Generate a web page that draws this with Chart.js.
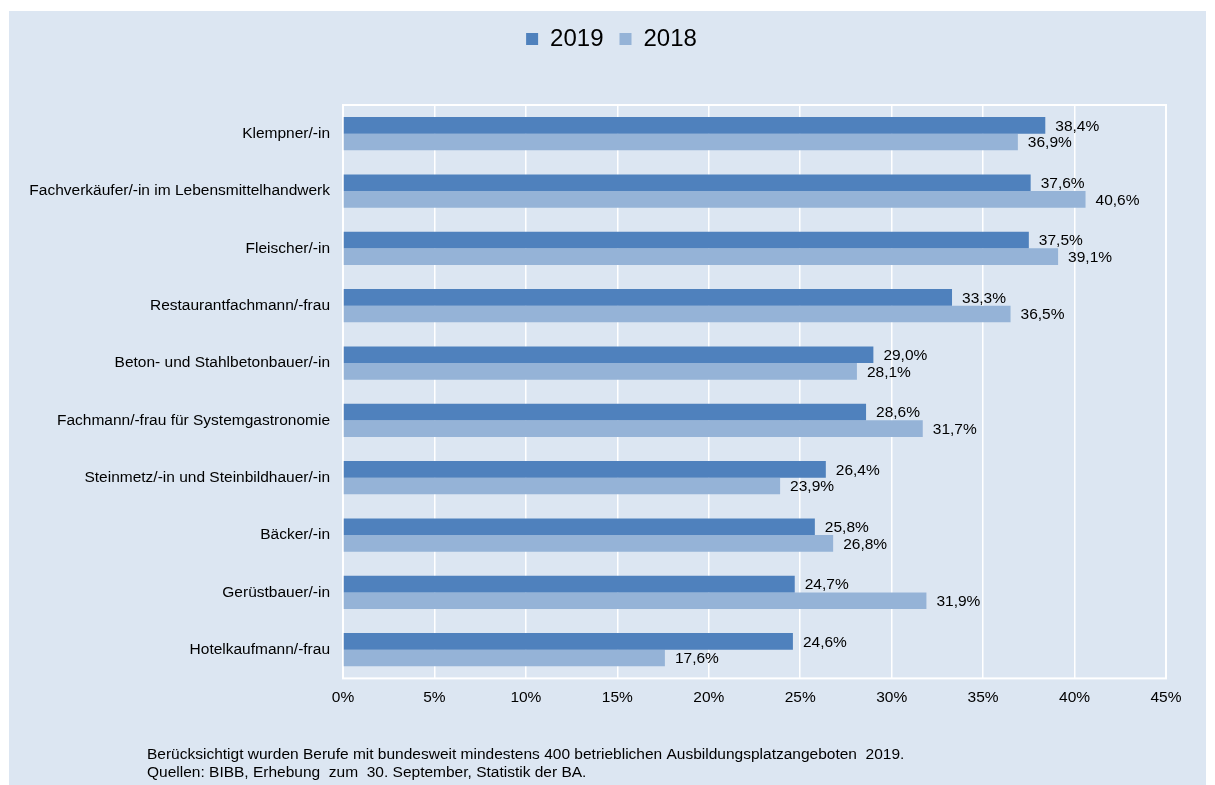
<!DOCTYPE html>
<html>
<head>
<meta charset="utf-8">
<script src="https://cdn.jsdelivr.net/npm/chart.js@4/dist/chart.umd.min.js"></script>
<style>
  body { margin: 0; background: #ffffff; }
  #panel {
    position: absolute;
    left: 9px;
    top: 11px;
    width: 1197px;
    height: 774px;
    background: #dce6f2;
  }
</style>
</head>
<body>
<div id="panel"><canvas id="chart" width="1197" height="774"></canvas></div>
<script>
const berufe = [
  'Klempner/-in',
  'Fachverkäufer/-in im Lebensmittelhandwerk',
  'Fleischer/-in',
  'Restaurantfachmann/-frau',
  'Beton- und Stahlbetonbauer/-in',
  'Fachmann/-frau für Systemgastronomie',
  'Steinmetz/-in und Steinbildhauer/-in',
  'Bäcker/-in',
  'Gerüstbauer/-in',
  'Hotelkaufmann/-frau'
]
const werte2019 = [38.4, 37.6, 37.5, 33.3, 29.0, 28.6, 26.4, 25.8, 24.7, 24.6]
const werte2018 = [36.9, 40.6, 39.1, 36.5, 28.1, 31.7, 23.9, 26.8, 31.9, 17.6]
const xTicks = [0, 5, 10, 15, 20, 25, 30, 35, 40, 45]
const fussnote = [
  'Berücksichtigt wurden Berufe mit bundesweit mindestens 400 betrieblichen Ausbildungsplatzangeboten  2019.',
  'Quellen: BIBB, Erhebung  zum  30. September, Statistik der BA.'
]

const FONT = "'Liberation Sans', Arial, sans-serif"
const SIZE = 15.5
Chart.defaults.font.family = FONT
Chart.defaults.color = '#000000'

const fmt = v => v.toFixed(1).replace('.', ',') + '%'

// white frame around the plot area
const plotFrame = {
  id: 'plotFrame',
  beforeDatasetsDraw (chart) {
    const { ctx, chartArea: a } = chart
    ctx.save()
    ctx.strokeStyle = '#ffffff'
    ctx.lineWidth = 2
    ctx.strokeRect(a.left, a.top, a.right - a.left, a.bottom - a.top)
    ctx.restore()
  }
}

// value labels right of each bar
const barLabels = {
  id: 'barLabels',
  afterDatasetsDraw (chart) {
    const { ctx } = chart
    ctx.save()
    ctx.font = SIZE + 'px ' + FONT
    ctx.fillStyle = '#000000'
    ctx.textAlign = 'left'
    ctx.textBaseline = 'middle'
    chart.data.datasets.forEach((ds, i) => {
      chart.getDatasetMeta(i).data.forEach((bar, j) => {
        ctx.fillText(fmt(ds.data[j]), bar.x + 10, bar.y + 1)
      })
    })
    ctx.restore()
  }
}

// source note at the bottom
const footNote = {
  id: 'footNote',
  afterDraw (chart) {
    const { ctx } = chart
    ctx.save()
    ctx.font = SIZE + 'px ' + FONT
    ctx.fillStyle = '#000000'
    ctx.textAlign = 'left'
    ctx.textBaseline = 'middle'
    fussnote.forEach((line, i) => ctx.fillText(line, 138, 744 + i * 18))
    ctx.restore()
  }
}

const legendSpace = {
  id: 'legendSpace',
  beforeInit (chart) {
    const fit = chart.legend.fit
    chart.legend.fit = function () {
      fit.bind(chart.legend)()
      this.height = 94
    }
  },
  afterLayout (chart) {
    chart.legend.left += 24
    chart.legend.right += 24
  }
}

new Chart(document.getElementById('chart').getContext('2d'), {
  type: 'bar',
  data: {
    labels: berufe,
    datasets: [
      {
        label: '2019',
        data: werte2019,
        backgroundColor: '#4f81bd',
        categoryPercentage: 0.58,
        barPercentage: 1
      },
      {
        label: '2018',
        data: werte2018,
        backgroundColor: '#95b3d7',
        categoryPercentage: 0.58,
        barPercentage: 1
      }
    ]
  },
  options: {
    indexAxis: 'y',
    responsive: false,
    animation: false,
    layout: {
      padding: { left: 0, right: 40, top: 0, bottom: 68 }
    },
    plugins: {
      legend: {
        position: 'top',
        labels: {
          font: { size: 24 },
          color: '#000000',
          boxWidth: 12,
          boxHeight: 12,
          padding: 16
        }
      },
      tooltip: { enabled: false }
    },
    scales: {
      x: {
        min: 0,
        max: 45,
        afterBuildTicks: scale => {
          scale.ticks = xTicks.map(v => ({ value: v }))
        },
        grid: {
          color: '#ffffff',
          lineWidth: 1.5,
          drawTicks: false
        },
        border: { display: false },
        ticks: {
          padding: 10,
          font: { size: SIZE },
          color: '#000000',
          callback: value => value + '%'
        }
      },
      y: {
        afterFit: scale => {
          scale.width = 334
        },
        grid: { display: false, drawTicks: false },
        border: { color: '#ffffff', width: 2 },
        ticks: {
          padding: 13,
          font: { size: SIZE },
          color: '#000000'
        }
      }
    }
  },
  plugins: [legendSpace, plotFrame, barLabels, footNote]
})
</script>
</body>
</html>
